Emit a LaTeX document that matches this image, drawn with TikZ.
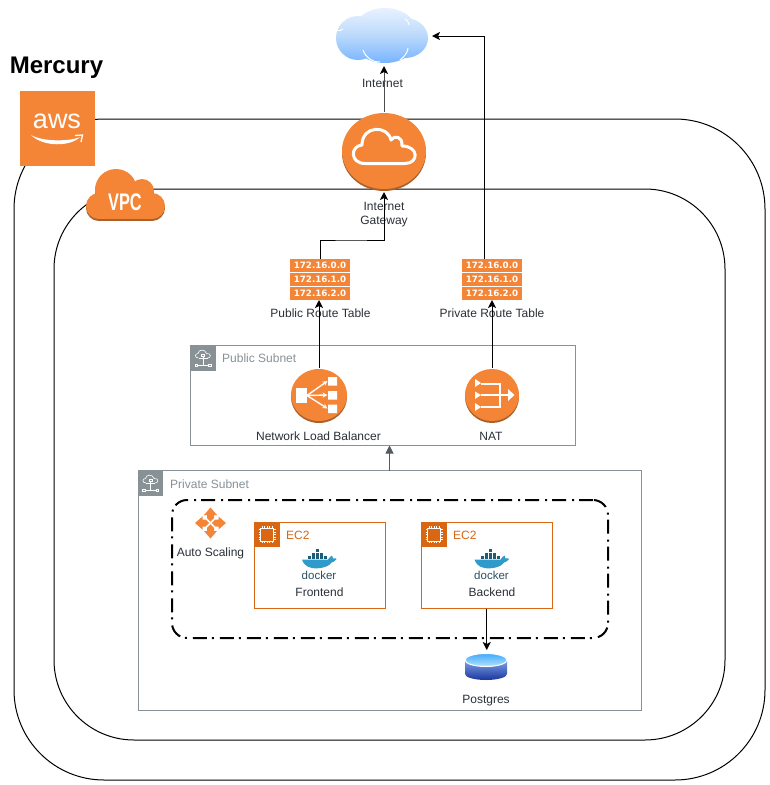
\documentclass[tikz,border=0pt]{standalone}
\usepackage{fontspec}
\setmainfont{Liberation Sans}
\newfontfamily\rtfont{DejaVu Sans}
\usetikzlibrary{arrows.meta,shapes.geometric,calc}
\definecolor{awsor}{HTML}{F58536}
\definecolor{awsdk}{HTML}{A9602C}
\definecolor{ecor}{HTML}{D86613}
\definecolor{subgr}{HTML}{879196}
\definecolor{txt}{HTML}{2B3038}
\definecolor{whale}{HTML}{2F9BCB}
\definecolor{cloudtop}{HTML}{E8F2FF}
\definecolor{cloudmid}{HTML}{BBD9FB}
\definecolor{cloudbot}{HTML}{78B4FF}
\definecolor{dbtop}{HTML}{3FA9FF}
\definecolor{dblight}{HTML}{B5E3FF}
\definecolor{dbbody}{HTML}{7FA3E6}
\definecolor{dbdark}{HTML}{1B369E}
\tikzset{
  x=1pt,y=-1pt,
  lab/.style={font=\fontsize{12}{14}\selectfont,text=txt,inner sep=0pt,align=center},
  conn/.style={draw=black,line width=1pt,-{Stealth[length=8pt,width=8pt,inset=2pt,color=black]}},
  region/.style={draw=black,line width=1pt,rounded corners=#1},
  subnet/.style={draw=subgr,line width=1pt},
  ecbox/.style={draw=ecor,line width=1pt,fill=white},
  anchorbox/.style={inner sep=0pt,outer sep=0pt,minimum width=#1},
  hdr/.style={font=\fontsize{12}{14}\selectfont,inner sep=0pt,anchor=west},
  rtrow/.style={fill=awsor,draw=none,inner sep=0pt,outer sep=0pt,minimum width=60pt,minimum height=13pt,text=white,font=\rtfont\bfseries\fontsize{8.7}{10}\selectfont},
}
% subnet badge: top-left corner
\newcommand{\subnetbadge}[2]{%
  \fill[subgr] (#1,#2) rectangle ++(25,25);
  \begin{scope}[shift={(#1,#2)},white,line width=.6pt]
    \draw (8,12.5) .. controls (4,12.5) and (4,8) .. (7.5,8) .. controls (8,3.5) and (15,3.5) .. (16,8)
      .. controls (21,7.5) and (21,12.5) .. (17,12.5);
    \draw (8,12.5) -- (17,12.5);
    \draw (12.5,10) -- (12.5,20) (7,20) -- (18,20);
    \draw (11,8.5) rectangle (14,11);
    \draw (4.5,18.5) rectangle (7,21) (18,18.5) rectangle (20.5,21);
  \end{scope}}
% EC2 badge
\newcommand{\ecbadge}[2]{%
  \fill[ecor] (#1,#2) rectangle ++(25,25);
  \begin{scope}[shift={(#1,#2)},white,line width=.6pt]
    \draw (6,6) rectangle (19,19);
    \foreach \k in {7.5,10,12.5,15,17.5}{
      \draw (\k,4) -- (\k,6) (\k,19) -- (\k,21) (4,\k) -- (6,\k) (19,\k) -- (21,\k);}
  \end{scope}}
% docker logo centred at x, top y
\newcommand{\dockerlogo}[2]{%
  \begin{scope}[shift={(#1,#2)}]
    \fill[whale] (-17,8.5) -- (9,8.5) .. controls (10,6) and (12,6) .. (13,4.5)
      .. controls (13.5,6) and (14,7) .. (14,7.5) .. controls (16,7) and (17,7.5) .. (17.5,8)
      .. controls (15,11) and (14,11) .. (12.5,11.5) .. controls (9,17) and (-2,18) .. (-7,17)
      .. controls (-13,16) and (-16,12) .. (-17,8.5) -- cycle;
    \foreach \a/\b in {-11/5,-7/5,-3/5,1/5,5/5,-7/1.5,-3/1.5,1/1.5,-3/-2}{
      \fill[whale!60!black] (\a,\b) rectangle ++(3.4,3.1);}
    \node[inner sep=0pt,text=txt!70!whale,font=\fontsize{11.5}{12}\selectfont] at (0,24) {docker};
  \end{scope}}
% orange round resource icon
\newcommand{\roundicon}[5]{% name, x, y, rx, ry
  \fill[awsdk] (#2,#3+2) ellipse [x radius=#4,y radius=#5];
  \fill[awsor] (#2,#3) ellipse [x radius=#4,y radius=#5];
  \node[ellipse,inner sep=0pt,outer sep=0pt,minimum width=#4*2pt,minimum height=#5*2pt+4pt] (#1) at (#2,#3+1) {};}
% VPC cloud silhouette
\newcommand{\vpcshape}[2]{%
  \begin{scope}[shift={(0,#2)}]
  \fill[#1] (116,190) circle [radius=21];
  \fill[#1] (142,191) circle [radius=12];
  \fill[#1] (99,206) circle [radius=13];
  \fill[#1] (152,206) circle [radius=13];
  \fill[#1] (99,193) rectangle (152,219);
  \end{scope}}
\begin{document}
\begin{tikzpicture}
\useasboundingbox (0,0) rectangle (770,785);
\fill[white] (0,0) rectangle (770,785);

% regions
\node[anchorbox=751pt,minimum height=661pt,region=90pt,draw] (cloudregion) at (389.5,449.5) {};
\node[anchorbox=671pt,minimum height=551pt,region=80pt,draw] (vpcregion) at (389.5,464.5) {};

% title
\node[inner sep=0pt,font=\bfseries\fontsize{24}{28}\selectfont,text=black] (title) at (56.5,68) {Mercury};

% AWS badge
\node[fill=awsor,inner sep=0pt,minimum size=75pt] (awsbadge) at (57.5,128.5) {};
\node[inner sep=0pt,text=white,font=\fontsize{27}{28}\selectfont] (awstext) at (57,121) {aws};
\fill[white] (31,135) .. controls (43,147) and (70,147) .. (80,137) .. controls (70,141.5) and (43,142) .. (31,135) -- cycle;
\draw[white,line width=1.3pt] (75,135.5) -- (82.5,135) -- (81,142);

% VPC badge
\vpcshape{awsdk}{2}
\vpcshape{awsor}{0}
\node[inner sep=0pt,text=white,font=\bfseries\fontsize{24}{25}\selectfont] (vpctext) at (125,202) {\scalebox{.68}[1]{VPC}};

% subnets
\node[anchorbox=384.5pt,minimum height=100pt,subnet,fill=white] (pubnet) at (382.75,395.5) {};
\node[anchorbox=503pt,minimum height=240pt,subnet,fill=white] (privnet) at (389.5,590.5) {};
\subnetbadge{190.5}{345.5}
\subnetbadge{138}{470.5}
\node[hdr,text=subgr] (publab) at (222,358.5) {Public Subnet};
\node[hdr,text=subgr] (privlab) at (170,484) {Private Subnet};

% auto scaling group
\node[anchorbox=436pt,minimum height=138pt,draw=black,line width=2pt,rounded corners=15pt,
  dash pattern=on 14pt off 5pt on 2pt off 6pt] (asg) at (390,569) {};

% EC2
\node[anchorbox=130.5pt,minimum height=86.5pt,ecbox] (fe) at (319.75,565.25) {};
\node[anchorbox=130.5pt,minimum height=86.5pt,ecbox] (be) at (486.75,565.25) {};
\ecbadge{254.5}{522}
\ecbadge{421.5}{522}
\node[hdr,text=ecor] (felab) at (286,535.5) {EC2};
\node[hdr,text=ecor] (belab) at (453,535.5) {EC2};
\dockerlogo{319}{551}
\dockerlogo{491.5}{551}
\node[lab] (fetext) at (319.5,592.5) {Frontend};
\node[lab] (betext) at (492,592.5) {Backend};

% auto scaling icon
\begin{scope}[shift={(210.5,523)}]
  \foreach \r in {0,90,180,270}{
    \fill[awsor,rotate=\r] (0,-15.5) -- (6.5,-8) -- (3.5,-8) -- (3.5,-4.8) -- (0,-1.3) -- (-3.5,-4.8) -- (-3.5,-8) -- (-6.5,-8) -- cycle;}
\end{scope}
\node[lab] (aslab) at (210.5,553) {Auto Scaling};

% Internet cloud
\shade[top color=cloudtop,bottom color=cloudbot,middle color=cloudmid]
  (358,38) ellipse [x radius=22,y radius=22]
  (385,29) ellipse [x radius=30,y radius=21]
  (405,38) ellipse [x radius=23,y radius=20]
  (385,43) ellipse [x radius=30,y radius=20];
\draw[white,line width=1pt] (336,30) .. controls (339,31) and (341,31) .. (343,29)
  (363,50) .. controls (366,58) and (372,62) .. (380,62)
  (408,48) .. controls (408,52) and (405,56) .. (400,60)
  (405,19) .. controls (408,21) and (409,23) .. (409,25);
\node[anchorbox=96pt,minimum height=60pt] (cloud) at (384,36) {};
\node[lab] (cloudlab) at (382.5,83) {Internet};

% Internet gateway
\roundicon{gw}{384}{151}{42}{38}
\draw[white,line width=3pt,line join=round]
  (365,163.5) .. controls (350,163.5) and (350,146) .. (362,145)
  .. controls (362,125) and (388,125) .. (391,140)
  .. controls (394,135) and (403,136) .. (402,146)
  .. controls (419,146) and (419,163.5) .. (405,163.5) -- cycle;
\node[lab] (gwlab) at (384,214.5) {Internet\\Gateway};

% Route tables
\foreach \nm/\cx in {pub/320,priv/492}{
  \node[rtrow] (\nm r0) at (\cx,265.5) {172.16.0.0};
  \node[rtrow] (\nm r1) at (\cx,279.5) {172.16.1.0};
  \node[rtrow] (\nm r2) at (\cx,293.5) {172.16.2.0};
}
\node[lab] (pubrtlab) at (320.5,313) {Public Route Table};
\node[lab] (privrtlab) at (492,313) {Private Route Table};

% NLB
\roundicon{nlb}{319}{395}{28}{26}
\begin{scope}[white]
  \fill (296,388) rectangle (307,403);
  \fill (328,377) rectangle (337,385.5) (328,391) rectangle (337,399.5) (328,404.5) rectangle (337,413);
  \foreach \ty in {381,395,408.5}{
    \draw[line width=1.4pt,-{Stealth[length=5pt,width=5pt]}] (307,395.5) -- (327.5,\ty);}
\end{scope}
\node[lab] (nlblab) at (318.5,436) {Network Load Balancer};

% NAT
\roundicon{nat}{492}{395}{27}{26}
\begin{scope}[white]
  \fill (475,379) -- (481,383) -- (475,387) -- cycle;
  \fill (475,391.5) -- (481,395) -- (475,399) -- cycle;
  \fill (475,403) -- (481,407) -- (475,411) -- cycle;
  \draw[line width=1.5pt] (481,384) -- (500,384) -- (500,407) -- (481,407) (481,395) -- (509,395);
  \fill (508,389) -- (514.5,395) -- (508,401) -- cycle;
\end{scope}
\node[lab] (natlab) at (491,436) {NAT};

% Postgres
\shade[top color=dbbody,bottom color=dbdark]
  (465,660) -- (465,674) arc[start angle=180,end angle=0,x radius=21,y radius=6] -- (507,660) -- cycle;
\shade[top color=dbtop,bottom color=dblight,draw=white,line width=1pt]
  (486,660) ellipse [x radius=21,y radius=6.5];
\node[inner sep=0pt,outer sep=0pt,minimum width=42pt,minimum height=30pt] (db) at (486,665) {};
\node[lab] (dblab) at (486,701) {Postgres};

% connectors
\coordinate (privout) at (484,259);
\coordinate (pubbend) at (350,240);
\draw[conn,draw=black!70] (gw.north) -- (cloud.south);
\draw[conn] (pubr0.north) |- (pubbend) -| (gw.south);
\draw[conn] (privout) |- (cloud.east);
\draw[conn] (nlb.north) -- (pubr2.south -| nlb.north);
\draw[conn] (nat.north) -- (privr2.south);
\draw[conn,draw=txt!80!white,-{Stealth[length=8pt,width=8pt,inset=0pt,color=txt!80!white]}] (privnet.north) -- (pubnet.south -| privnet.north);
\draw[conn] (be.south) -- (db.north -| be.south);

\end{tikzpicture}
\end{document}
